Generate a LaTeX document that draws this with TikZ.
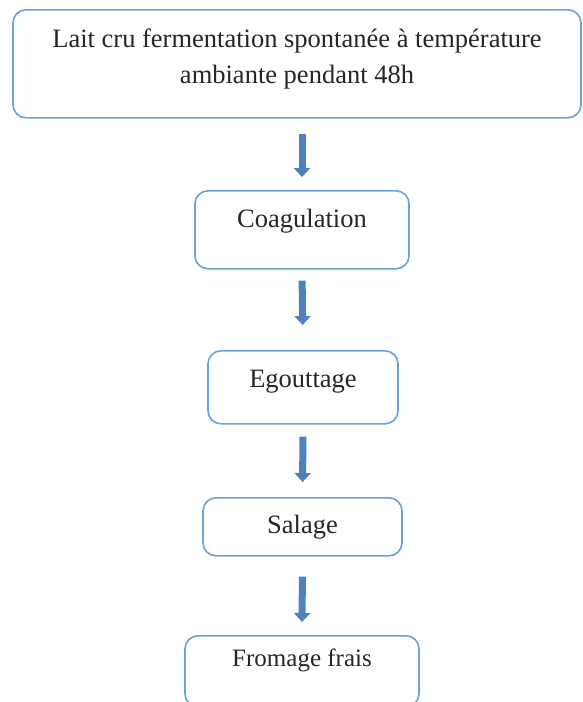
\documentclass[tikz,border=0pt]{standalone}
\usepackage{fontspec}
\setmainfont{Liberation Serif}
\usetikzlibrary{arrows.meta}
\definecolor{boxblue}{RGB}{108,160,220}
\definecolor{arrowblue}{RGB}{79,129,189}

\begin{document}
\begin{tikzpicture}[x=1pt,y=-1pt,
        stage/.style={draw=boxblue, line width=1.6pt, rounded corners=13pt, anchor=north,
            inner sep=0pt, text=black!85, font=\fontsize{26.5}{36}\selectfont},
        flow/.style={draw=arrowblue, line width=7pt, -{Triangle[width=16pt,length=9pt]}}]
    \useasboundingbox (0,0) rectangle (583,702);

    \node[stage, minimum width=568pt, text height=74pt, text depth=34pt, align=center] (lait) at (297,9)
        {Lait cru fermentation spontanée à température\\ambiante pendant 48h};
    \node[stage, minimum width=214pt, text height=37pt, text depth=41pt] (coag) at (302,190) {Coagulation};
    \node[stage, minimum width=190pt, text height=37pt, text depth=36pt] (egout) at (303,350) {Egouttage};
    \node[stage, minimum width=199pt, text height=36pt, text depth=22pt] (sal) at (302.5,497) {Salage};
    \node[stage, minimum width=234pt, text height=31pt, text depth=40pt,
        font=\fontsize{25}{36}\selectfont] (fromage) at (302,635) {Fromage frais};

    \draw[flow, shorten <=15pt, shorten >=13pt] (lait.south -| coag.north) -- (coag.north);
    \draw[flow, shorten <=11pt, shorten >=25pt] (coag.south) -- (egout.north);
    \draw[flow, shorten <=12pt, shorten >=15pt] (egout.south) -- (sal.north);
    \draw[flow, shorten <=20pt, shorten >=13pt] (sal.south) -- (fromage.north);
\end{tikzpicture}
\end{document}
